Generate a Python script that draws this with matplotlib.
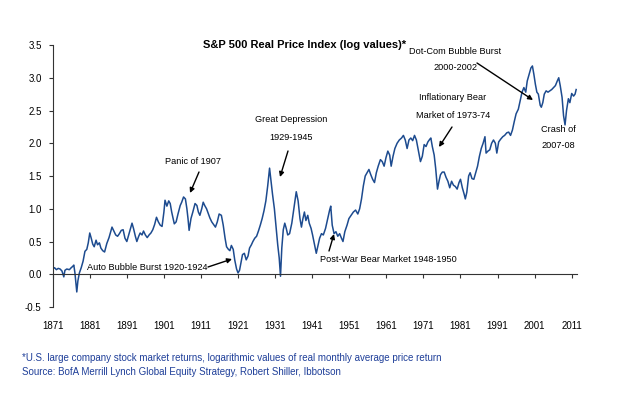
"""
    S&P 500 real price index (log values), 1871-2012.
"""
import numpy as np
import matplotlib
matplotlib.use('Agg')
import matplotlib.pyplot as plt

plt.rcParams['font.family'] = ['Liberation Sans Narrow', 'Liberation Sans', 'DejaVu Sans']

# values (year, log real price)
years = [
    1871.0, 1871.5, 1872.0, 1872.5, 1873.0, 1873.5, 1874.0, 1874.3, 1874.8, 1875.5,
    1876.0, 1876.4, 1876.7, 1877.0, 1877.3, 1877.5, 1877.8, 1878.2, 1878.7, 1879.2,
    1879.7, 1880.2, 1880.6, 1881.0, 1881.4, 1881.8, 1882.2, 1882.7, 1883.1, 1883.6,
    1884.0, 1884.5, 1885.0, 1885.6, 1886.2, 1886.6, 1887.0, 1887.5, 1888.0, 1888.5,
    1889.0, 1889.5, 1890.0, 1890.5, 1891.0, 1891.5, 1892.0, 1892.4, 1892.8, 1893.3,
    1893.7, 1894.2, 1894.6, 1895.1, 1895.5, 1896.0, 1896.5, 1897.0, 1897.5, 1898.0,
    1898.5, 1899.0, 1899.5, 1900.0, 1900.5, 1901.0, 1901.3, 1901.8, 1902.3, 1902.7,
    1903.1, 1903.5, 1903.8, 1904.3, 1904.8, 1905.4, 1905.8, 1906.3, 1906.8, 1907.2,
    1907.5, 1907.8, 1908.3, 1908.8, 1909.4, 1909.9, 1910.3, 1910.7, 1911.2, 1911.6,
    1912.0, 1912.5, 1913.0, 1913.4, 1913.9, 1914.4, 1914.9, 1915.4, 1915.9, 1916.5,
    1917.0, 1917.5, 1917.9, 1918.4, 1918.8, 1919.2, 1919.7, 1920.1, 1920.6, 1921.0,
    1921.4, 1921.8, 1922.2, 1922.7, 1923.2, 1923.7, 1924.1, 1924.6, 1925.0, 1925.5,
    1926.0, 1926.5, 1927.0, 1927.5, 1928.0, 1928.5, 1929.0, 1929.5, 1929.9, 1930.3,
    1930.8, 1931.2, 1931.7, 1932.1, 1932.45, 1932.8, 1933.2, 1933.6, 1934.0, 1934.4,
    1934.9, 1935.5, 1936.1, 1936.7, 1937.2, 1937.7, 1938.1, 1938.5, 1938.9, 1939.3,
    1939.8, 1940.2, 1940.7, 1941.1, 1941.6, 1942.1, 1942.5, 1943.0, 1943.5, 1944.0,
    1944.6, 1945.2, 1945.7, 1946.0, 1946.4, 1946.9, 1947.4, 1947.9, 1948.4, 1948.9,
    1949.3, 1949.8, 1950.4, 1950.9, 1951.5, 1952.1, 1952.7, 1953.3, 1953.8, 1954.3,
    1954.8, 1955.3, 1955.8, 1956.3, 1956.8, 1957.3, 1957.8, 1958.3, 1958.8, 1959.4,
    1959.9, 1960.4, 1960.9, 1961.4, 1961.9, 1962.3, 1962.8, 1963.3, 1963.9, 1964.5,
    1965.1, 1965.6, 1966.1, 1966.6, 1967.1, 1967.6, 1968.1, 1968.6, 1969.1, 1969.6,
    1970.2, 1970.7, 1971.2, 1971.7, 1972.2, 1972.7, 1973.0, 1973.4, 1973.9, 1974.3,
    1974.8, 1975.2, 1975.6, 1976.1, 1976.6, 1977.1, 1977.6, 1978.1, 1978.6, 1979.1,
    1979.6, 1980.1, 1980.6, 1981.0, 1981.5, 1982.0, 1982.3, 1982.7, 1983.2, 1983.6,
    1984.1, 1984.6, 1985.1, 1985.6, 1986.1, 1986.6, 1987.1, 1987.6, 1987.9, 1988.4,
    1988.9, 1989.4, 1989.9, 1990.4, 1990.8, 1991.3, 1991.8, 1992.4, 1992.9, 1993.5,
    1994.0, 1994.5, 1995.0, 1995.5, 1996.0, 1996.6, 1997.1, 1997.6, 1998.1, 1998.6,
    1999.0, 1999.5, 2000.0, 2000.4, 2000.8, 2001.2, 2001.6, 2002.0, 2002.5, 2002.8,
    2003.2, 2003.6, 2004.1, 2004.6, 2005.1, 2005.6, 2006.1, 2006.6, 2007.1, 2007.5,
    2007.9, 2008.4, 2008.8, 2009.2, 2009.6, 2010.1, 2010.5, 2011.0, 2011.5, 2011.9,
    2012.2,
]
log_price = [
    0.08, 0.10, 0.07, 0.09, 0.08, 0.05, -0.04, 0.06, 0.08, 0.07,
    0.10, 0.12, 0.14, 0.02, -0.15, -0.27, -0.10, 0.02, 0.10, 0.20,
    0.35, 0.38, 0.48, 0.63, 0.55, 0.46, 0.42, 0.52, 0.45, 0.48,
    0.40, 0.36, 0.34, 0.47, 0.56, 0.64, 0.72, 0.66, 0.60, 0.58,
    0.62, 0.67, 0.68, 0.55, 0.50, 0.60, 0.70, 0.78, 0.70, 0.58,
    0.50, 0.58, 0.63, 0.60, 0.66, 0.60, 0.56, 0.60, 0.63, 0.68,
    0.76, 0.87, 0.80, 0.75, 0.73, 0.95, 1.13, 1.04, 1.12, 1.08,
    0.95, 0.85, 0.77, 0.80, 0.92, 1.05, 1.10, 1.18, 1.15, 1.00,
    0.85, 0.67, 0.85, 0.95, 1.08, 1.05, 0.95, 0.90, 1.00, 1.10,
    1.05, 1.00, 0.92, 0.86, 0.80, 0.76, 0.72, 0.80, 0.92, 0.90,
    0.75, 0.55, 0.42, 0.38, 0.36, 0.44, 0.38, 0.22, 0.08, 0.02,
    0.06, 0.18, 0.30, 0.32, 0.22, 0.28, 0.40, 0.45, 0.50, 0.55,
    0.58, 0.66, 0.75, 0.85, 0.97, 1.12, 1.35, 1.62, 1.42, 1.22,
    1.00, 0.75, 0.45, 0.25, -0.03, 0.40, 0.68, 0.78, 0.70, 0.60,
    0.62, 0.78, 1.02, 1.26, 1.12, 0.85, 0.72, 0.85, 0.95, 0.82,
    0.90, 0.78, 0.70, 0.60, 0.46, 0.32, 0.42, 0.55, 0.62, 0.60,
    0.70, 0.85, 0.98, 1.04, 0.75, 0.62, 0.65, 0.58, 0.62, 0.55,
    0.50, 0.65, 0.75, 0.85, 0.90, 0.95, 0.98, 0.92, 1.00, 1.15,
    1.35, 1.50, 1.55, 1.60, 1.52, 1.45, 1.40, 1.55, 1.65, 1.75,
    1.72, 1.65, 1.78, 1.88, 1.82, 1.65, 1.80, 1.92, 2.00, 2.05,
    2.08, 2.12, 2.05, 1.92, 2.05, 2.08, 2.04, 2.12, 2.05, 1.90,
    1.72, 1.80, 1.98, 1.95, 2.02, 2.06, 2.08, 1.95, 1.82, 1.62,
    1.30, 1.42, 1.52, 1.56, 1.56, 1.48, 1.42, 1.32, 1.42, 1.36,
    1.34, 1.30, 1.40, 1.45, 1.32, 1.22, 1.15, 1.25, 1.50, 1.55,
    1.46, 1.45, 1.55, 1.65, 1.80, 1.92, 2.00, 2.10, 1.85, 1.88,
    1.90, 2.00, 2.05, 2.00, 1.85, 2.02, 2.06, 2.10, 2.12, 2.16,
    2.17, 2.12, 2.20, 2.33, 2.45, 2.52, 2.65, 2.78, 2.85, 2.78,
    2.95, 3.05, 3.15, 3.18, 3.05, 2.90, 2.78, 2.75, 2.58, 2.55,
    2.62, 2.75, 2.80, 2.78, 2.80, 2.82, 2.85, 2.88, 2.95, 3.00,
    2.88, 2.70, 2.42, 2.28, 2.50, 2.68, 2.62, 2.76, 2.72, 2.75,
    2.82,
]

x_ticks = list(range(1871, 2012, 10))
y_ticks = [-0.5, 0.0, 0.5, 1.0, 1.5, 2.0, 2.5, 3.0, 3.5]

title = 'S&P 500 Real Price Index (log values)*'
footnote = ('*U.S. large company stock market returns, logarithmic values of real monthly average price return\n'
            'Source: BofA Merrill Lynch Global Equity Strategy, Robert Shiller, Ibbotson')

fig = plt.figure(figsize=(6.22, 3.93), dpi=100)
ax = fig.add_axes([0.0847, 0.2188, 0.8428, 0.6667])

ax.plot(years, log_price, color='#1d4b8f', lw=1.1)

ax.set_xlim(1871, 2012.4)
ax.set_ylim(-0.5, 3.5)
ax.set_xticks(x_ticks)
ax.set_yticks(y_ticks)
ax.set_yticklabels(['%.1f' % v for v in y_ticks])

for s in ['top', 'right']:
    ax.spines[s].set_visible(False)
ax.spines['bottom'].set_position(('data', 0))
ax.spines['left'].set_color('#333333')
ax.spines['bottom'].set_color('#333333')
ax.tick_params(axis='x', direction='out', length=3, pad=31, labelsize=7, color='#333333')
ax.tick_params(axis='y', direction='out', length=3, pad=5, labelsize=7, color='#333333')

# texts and arrows, positions in pixels from the top-left corner
H = 393


def px(x, y):
    return (x, H - y)


def label(x, y, s, size=6.6, **kw):
    ax.text(x, H - y, s, transform=None, fontsize=size, ha='center', va='center', **kw)


label(305, 45, title, size=8, fontweight='bold')

ann_kw = dict(xycoords='figure pixels', textcoords='figure pixels', annotation_clip=False)
arrow = dict(arrowstyle='-|>', color='black', lw=1.0, mutation_scale=7, shrinkA=0, shrinkB=0)

label(193, 162, 'Panic of 1907')
ax.annotate('', xy=px(190, 193), xytext=px(199, 172), arrowprops=arrow, **ann_kw)

label(147, 268, 'Auto Bubble Burst 1920-1924')
ax.annotate('', xy=px(232, 259), xytext=px(208, 267), arrowprops=arrow, **ann_kw)

label(291, 120, 'Great Depression')
label(291, 138, '1929-1945')
ax.annotate('', xy=px(280, 177), xytext=px(288, 151), arrowprops=arrow, **ann_kw)

label(388, 260, 'Post-War Bear Market 1948-1950')
ax.annotate('', xy=px(334, 234), xytext=px(329, 251), arrowprops=arrow, **ann_kw)

label(453, 98, 'Inflationary Bear')
label(453, 115, 'Market of 1973-74')
ax.annotate('', xy=px(439, 147), xytext=px(452, 127), arrowprops=arrow, **ann_kw)

label(455, 52, 'Dot-Com Bubble Burst')
label(455, 68, '2000-2002')
ax.annotate('', xy=px(533, 100), xytext=px(477, 63), arrowprops=arrow, **ann_kw)

label(558, 129, 'Crash of')
label(558, 146, '2007-08')

fig.text(22 / 622, 1 - 365 / 393, footnote, fontsize=7, color='#1f3f99',
         ha='left', va='center', linespacing=1.4)

fig.savefig('out.png', dpi=100)
